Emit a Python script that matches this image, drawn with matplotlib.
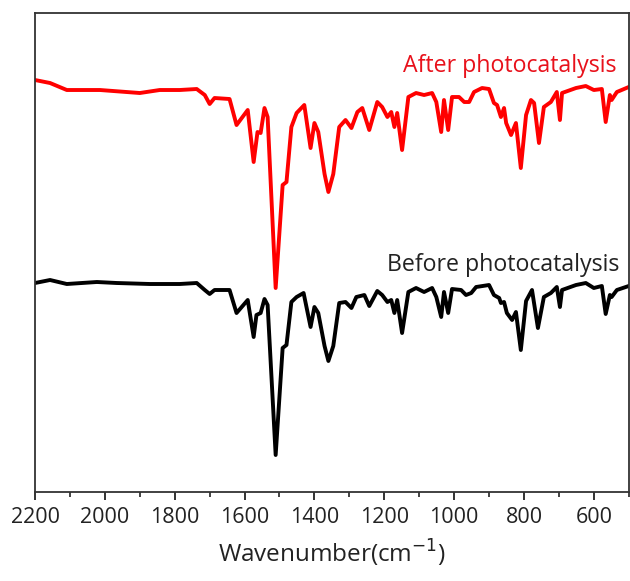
import matplotlib.pyplot as plt
from matplotlib.ticker import MultipleLocator

plt.rcParams['font.family'] = ['Open Sans', 'DejaVu Sans']

# FTIR spectra, transmittance in arbitrary units (curves offset vertically)
wn_after = [2200, 2157, 2109, 2014, 1900, 1843, 1786, 1737, 1714, 1700, 1686, 1643,
            1623, 1591, 1574, 1563, 1554, 1543, 1534, 1511, 1491, 1480, 1466, 1451, 1429,
            1411, 1400, 1389, 1371, 1360, 1346, 1329, 1311, 1294, 1277, 1263, 1243, 1220, 1206,
            1191, 1180, 1171, 1163, 1149, 1131, 1109, 1086, 1063, 1051, 1037, 1029,
            1017, 1006, 986, 971, 957, 943, 920, 900, 886, 877, 866, 857, 851, 837,
            823, 809, 794, 780, 771, 757, 743, 723, 706, 697, 691, 651, 623, 600,
            577, 566, 554, 549, 534, 500]
t_after = [412, 409, 402, 402, 399, 402, 402, 403, 397, 388, 394, 393,
           367, 382, 330, 360, 359, 384, 375, 204, 307, 310, 365, 379, 387,
           344, 369, 360, 318, 300, 318, 365, 372, 364, 380, 384, 362, 390, 385,
           375, 380, 365, 379, 342, 395, 399, 397, 399, 390, 360, 392,
           362, 395, 395, 390, 390, 400, 404, 403, 389, 387, 375, 384, 369, 357,
           369, 324, 377, 392, 389, 349, 385, 390, 400, 372, 399, 404, 406, 402,
           403, 370, 397, 392, 400, 405]

wn_before = [2200, 2157, 2109, 2023, 1966, 1871, 1786, 1737, 1714, 1700, 1686, 1643,
             1623, 1591, 1574, 1566, 1554, 1543, 1534, 1511, 1491, 1480, 1466, 1451, 1431,
             1411, 1400, 1389, 1371, 1360, 1346, 1329, 1311, 1294, 1280, 1257, 1243, 1220, 1206,
             1191, 1180, 1171, 1163, 1149, 1131, 1109, 1086, 1063, 1051, 1037, 1029,
             1017, 1006, 980, 966, 951, 937, 900, 886, 871, 866, 857, 849, 834,
             823, 809, 794, 777, 760, 743, 723, 706, 697, 691, 651, 623, 600,
             577, 566, 554, 549, 534, 500]
t_before = [209, 212, 208, 210, 209, 208, 208, 209, 202, 198, 202, 202,
            179, 192, 155, 177, 179, 193, 187, 37, 144, 147, 190, 195, 199,
            165, 185, 179, 146, 131, 146, 189, 190, 184, 195, 197, 186, 201, 197,
            190, 192, 179, 192, 159, 200, 204, 200, 204, 195, 175, 200,
            179, 203, 202, 197, 199, 205, 207, 197, 194, 189, 190, 179, 172,
            180, 142, 191, 202, 164, 195, 199, 205, 185, 202, 207, 209, 204,
            206, 178, 197, 195, 202, 206]

fig = plt.figure(figsize=(6.3, 5.81), dpi=100)
ax = fig.add_axes([0.0556, 0.1532, 0.9424, 0.8244])

ax.plot(wn_after, t_after, color='#ff0000', lw=2.8, solid_joinstyle='round')
ax.plot(wn_before, t_before, color='black', lw=2.8, solid_joinstyle='round')

ax.text(0.98, 0.89, 'After photocatalysis', color='#e8111b', fontsize=16.7,
        ha='right', va='center', transform=ax.transAxes)
ax.text(0.985, 0.473, 'Before photocatalysis', color='#222222', fontsize=16.7,
        ha='right', va='center', transform=ax.transAxes)

ax.set_xlim(2200, 500)
ax.set_ylim(0, 479)
ax.xaxis.set_major_locator(MultipleLocator(200))
ax.xaxis.set_minor_locator(MultipleLocator(100))
ax.set_yticks([])
ax.tick_params(axis='x', which='major', direction='out', length=6, width=1.3,
               labelsize=15.5, pad=5, colors='#222222')
ax.tick_params(axis='x', which='minor', direction='out', length=3.5, width=1.2,
               colors='#222222')
ax.tick_params(top=False)
for s in ax.spines.values():
    s.set_linewidth(1.3)
    s.set_color('#333333')
ax.set_xlabel('Wavenumber(cm$^{-1}$)', fontsize=17.5, color='#222222', labelpad=7)

fig.savefig('out.png', dpi=100)
